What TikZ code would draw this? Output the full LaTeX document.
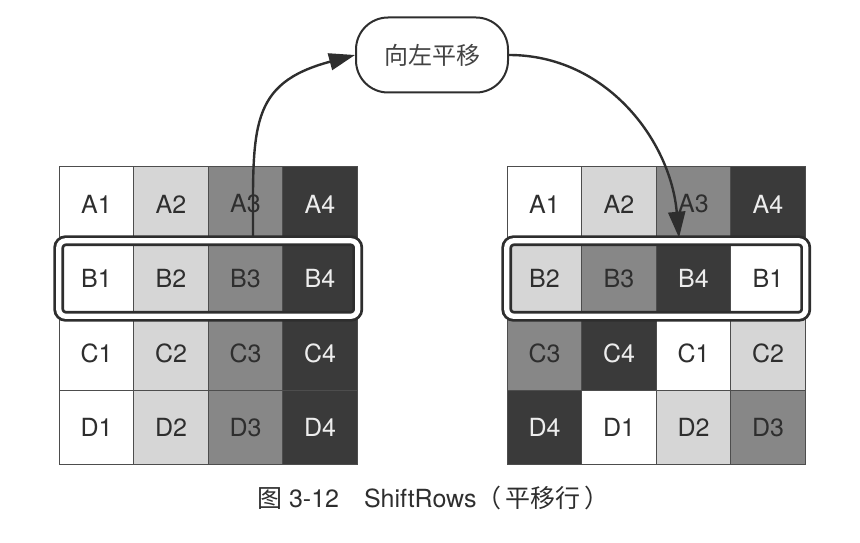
\documentclass[tikz,border=0pt]{standalone}
\usepackage{fontspec}
\setmainfont{TeX Gyre Heros}
\newfontfamily\cjk{Noto Sans CJK SC}
\usetikzlibrary{positioning,fit,arrows.meta}
\definecolor{ink}{HTML}{2E2E2E}
\definecolor{pale}{HTML}{D6D6D6}
\definecolor{mid}{HTML}{878787}
\definecolor{dark}{HTML}{3A3A3A}
\definecolor{lettering}{HTML}{EDEDED}

\begin{document}
\begin{tikzpicture}[
    node distance=37.25pt,
    cell/.style={rectangle, draw=ink!85, line width=0.5pt, minimum width=37.25pt, minimum height=37.25pt, inner sep=0pt, font=\fontsize{12.5}{13}\selectfont},
    wcell/.style={cell, fill=white, text=ink},
    lcell/.style={cell, fill=pale, text=ink},
    mcell/.style={cell, fill=mid, text=ink},
    dcell/.style={cell, fill=dark, text=lettering},
    band/.style={rectangle, draw=ink, line width=1.4pt, double=white, double distance=2.6pt, rounded corners=3.5pt, inner sep=0pt},
    bubble/.style={rectangle, draw=ink, line width=1pt, rounded corners=16pt, minimum width=76pt, minimum height=37.5pt, text=ink!90, font=\cjk\fontsize{12}{13}\selectfont},
    arrow/.style={line width=1.2pt, draw=ink, ->, >={Triangle[length=13pt,width=8.5pt]}}
]
    \useasboundingbox (0pt,0pt) rectangle (430pt,271pt);

    % State before the shift
    \node [wcell] (la1) at (48.25pt,169pt) {A1};
    \node [lcell, right of=la1] (la2) {A2};
    \node [mcell, right of=la2] (la3) {A3};
    \node [dcell, right of=la3] (la4) {A4};
    \node [wcell, below of=la1] (lb1) {B1};
    \node [lcell, right of=lb1] (lb2) {B2};
    \node [mcell, right of=lb2] (lb3) {B3};
    \node [dcell, right of=lb3] (lb4) {B4};
    \node [wcell, below of=lb1] (lc1) {C1};
    \node [lcell, right of=lc1] (lc2) {C2};
    \node [mcell, right of=lc2] (lc3) {C3};
    \node [dcell, right of=lc3] (lc4) {C4};
    \node [wcell, below of=lc1] (ld1) {D1};
    \node [lcell, right of=ld1] (ld2) {D2};
    \node [mcell, right of=ld2] (ld3) {D3};
    \node [dcell, right of=ld3] (ld4) {D4};

    % State after the shift
    \node [wcell] (ra1) at (272.25pt,169pt) {A1};
    \node [lcell, right of=ra1] (ra2) {A2};
    \node [mcell, right of=ra2] (ra3) {A3};
    \node [dcell, right of=ra3] (ra4) {A4};
    \node [lcell, below of=ra1] (rb1) {B2};
    \node [mcell, right of=rb1] (rb2) {B3};
    \node [dcell, right of=rb2] (rb3) {B4};
    \node [wcell, right of=rb3] (rb4) {B1};
    \node [mcell, below of=rb1] (rc1) {C3};
    \node [dcell, right of=rc1] (rc2) {C4};
    \node [wcell, right of=rc2] (rc3) {C1};
    \node [lcell, right of=rc3] (rc4) {C2};
    \node [dcell, below of=rc1] (rd1) {D4};
    \node [wcell, right of=rd1] (rd2) {D1};
    \node [lcell, right of=rd2] (rd3) {D2};
    \node [mcell, right of=rd3] (rd4) {D3};

    % Highlighted rows
    \node [band, fit=(lb1)(lb4)] (lframe) {};
    \node [band, fit=(rb1)(rb4)] (rframe) {};

    % Operation
    \node [bubble] (shift) at (216pt,243.5pt) {向左平移};
    \coordinate (lift) at ([xshift=3.75pt,yshift=2pt]la3.south);
    \coordinate (drop) at ([xshift=-7.25pt,yshift=2pt]ra3.south);
    \draw [arrow] (lift) to[out=90, in=195, looseness=1.35] (shift.west);
    \draw [arrow] (shift.east) to[out=0, in=95] (drop);

    % Caption
    \node [text=ink, font=\fontsize{12.5}{14}\selectfont] (caption) at (216.75pt,22pt) {{\cjk 图} 3-12\quad ShiftRows{\cjk（\,平移行\,）}};
\end{tikzpicture}
\end{document}
